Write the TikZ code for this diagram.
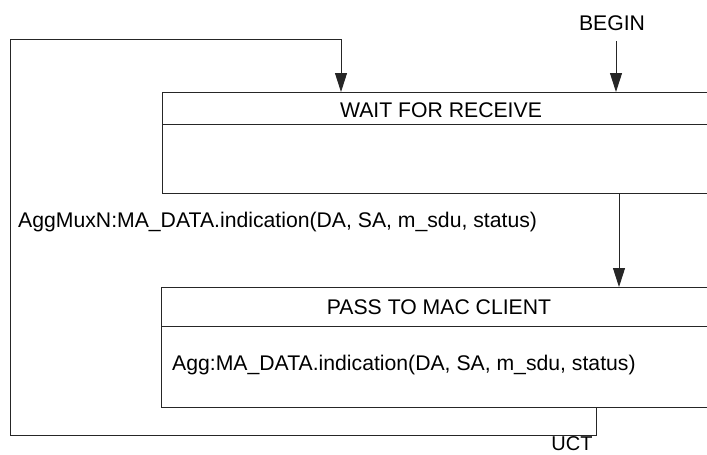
\documentclass[tikz,border=0pt]{standalone}
\usepackage{fontspec}
\setmainfont{Liberation Sans}
\usetikzlibrary{arrows.meta}
\begin{document}
\begin{tikzpicture}[x=1pt,y=-1pt,
  line/.style={draw=black!85, line width=0.9pt},
  arr/.style={line, -{Triangle[length=19pt,width=12pt]}},
  statebox/.style={line, rectangle, anchor=north west, inner sep=0pt},
  lbl/.style={inner sep=0pt, font=\fontsize{21.2pt}{25pt}\selectfont}]
\useasboundingbox (0,0) rectangle (707,455);
\clip (0,0) rectangle (707,455);
% states
\node[statebox, minimum width=558pt, minimum height=101pt] (wait) at (162,92) {};
\node[statebox, minimum width=559pt, minimum height=120pt] (pass) at (161,287) {};
\draw[line] (wait.west |- 0,124) -- (wait.east |- 0,124);
\draw[line] (pass.west |- 0,326) -- (pass.east |- 0,326);
% texts
\node[lbl] (begin) at (612,23) {BEGIN};
\node[lbl] (waitt) at (441,110) {WAIT FOR RECEIVE};
\node[lbl] (passt) at (439,307) {PASS TO MAC CLIENT};
\node[lbl, anchor=west] (mux) at (18,222) {AggMuxN:MA\_DATA.indication(DA, SA, m\_sdu, status)};
\node[lbl, anchor=west] (agg) at (172,365) {Agg:MA\_DATA.indication(DA, SA, m\_sdu, status)};
\node[lbl, font=\fontsize{20pt}{24pt}\selectfont] (uct) at (572,444) {UCT};
% connectors
\coordinate (b0) at (616,41);
\draw[arr] (b0) -- (b0 |- wait.north);
\coordinate (w0) at (619,193);
\draw[arr] (w0 |- wait.south) -- (w0 |- pass.north);
\coordinate (u0) at (596,407);
\coordinate (c1) at (596,435);
\coordinate (c2) at (10,435);
\coordinate (c3) at (10,39);
\coordinate (c4) at (341,39);
\draw[arr] (u0 |- pass.south) -- (c1) -- (c2) -- (c3) -- (c4) -- (c4 |- wait.north);
\end{tikzpicture}
\end{document}
